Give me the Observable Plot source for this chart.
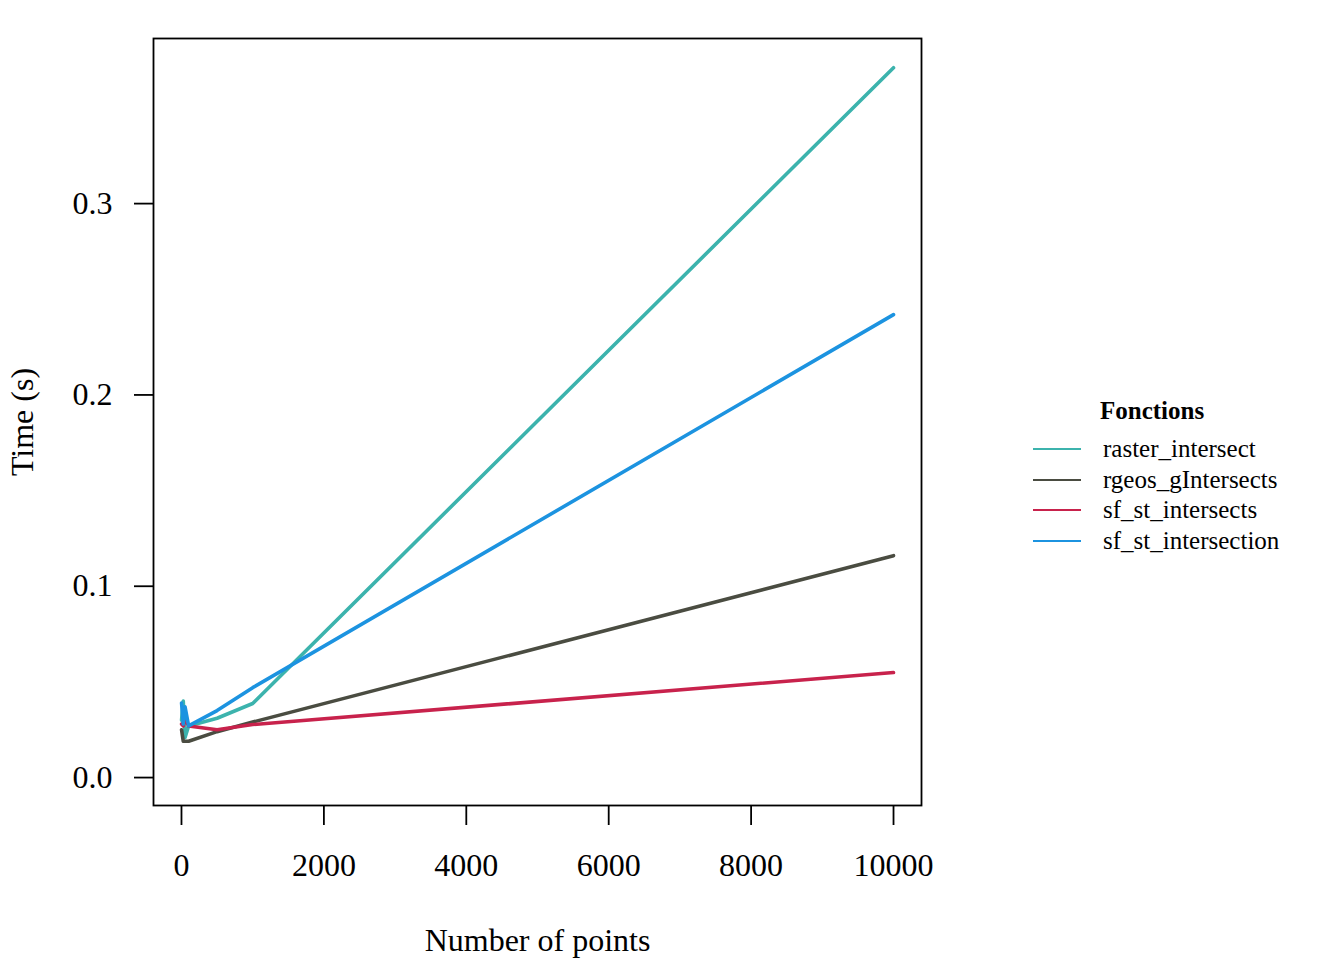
<!DOCTYPE html>
<html>
<head>
<meta charset="utf-8">
<script src="https://cdn.jsdelivr.net/npm/d3@7"></script>
<script src="https://cdn.jsdelivr.net/npm/@observablehq/plot@0.6"></script>
<style>
  html, body { margin: 0; padding: 0; background: #fff; }
  #wrap { position: relative; width: 1344px; height: 960px; font-family: "Liberation Serif", "DejaVu Serif", serif; }
  #legend { position: absolute; left: 1033px; top: 391px; font-family: "Liberation Serif", serif; }
  #legend .title { font-weight: bold; font-size: 25px; margin-left: 67px; height: 43px; line-height: 40px; }
  #legend .row { display: flex; align-items: center; height: 30.5px; }
  #legend .sw { width: 48px; height: 2px; margin-right: 22px; }
  #legend .lab { font-size: 25px; }
</style>
</head>
<body>
<div id="wrap"></div>
<script>
// ---- data ----
const nPoints = [1, 25, 50, 100, 500, 1000, 10000];
const seriesNames = ["raster_intersect", "rgeos_gIntersects", "sf_st_intersects", "sf_st_intersection"];
const rasterIntersect   = [0.030, 0.040, 0.021, 0.027, 0.031, 0.0387, 0.371];
const rgeosGIntersects  = [0.025, 0.019, 0.019, 0.019, 0.024, 0.029, 0.116];
const sfStIntersects    = [0.028, 0.027, 0.031, 0.027, 0.025, 0.0277, 0.0549];
const sfStIntersection  = [0.039, 0.028, 0.037, 0.027, 0.035, 0.047, 0.242];
const seriesColors = ["#3CB3AD", "#4A4C41", "#C8224C", "#1C93E0"];
const xTicks = [0, 2000, 4000, 6000, 8000, 10000];
const yTicks = [0, 0.1, 0.2, 0.3];

const seriesValues = [rasterIntersect, rgeosGIntersects, sfStIntersects, sfStIntersection];
const rows = [];
seriesNames.forEach((name, i) => {
  nPoints.forEach((x, j) => rows.push({series: name, x, y: seriesValues[i][j]}));
});

const chart = Plot.plot({
  width: 1344,
  height: 960,
  marginLeft: 153,
  marginRight: 423,
  marginTop: 38,
  marginBottom: 155,
  style: {fontFamily: "'Liberation Serif', serif", fontSize: "32px", background: "white", color: "black"},
  x: {domain: [-393, 10393], ticks: xTicks},
  y: {domain: [-0.0146, 0.3863], ticks: yTicks},
  color: {domain: seriesNames, range: seriesColors},
  marks: [
    Plot.line(rows, {x: "x", y: "y", z: "series", stroke: "series", strokeWidth: 3.6, strokeLinejoin: "round", strokeLinecap: "round"}),
    Plot.frame({stroke: "black", strokeWidth: 1.8}),
    Plot.axisX({ticks: xTicks, tickFormat: d => String(d), tickSize: 20, tickPadding: 28, strokeWidth: 1.8, fontSize: 32, label: null}),
    Plot.axisY({ticks: yTicks, tickFormat: d => d.toFixed(1), tickSize: 19, tickPadding: 22, strokeWidth: 1.8, fontSize: 32, label: null}),
    Plot.text(["Number of points"], {frameAnchor: "bottom", dy: 145, fontSize: 32, text: d => d}),
    Plot.text(["Time (s)"], {frameAnchor: "left", textAnchor: "middle", dx: -131, rotate: -90, fontSize: 32, text: d => d})
  ]
});
document.getElementById("wrap").appendChild(chart);

// legend
const leg = document.createElement("div");
leg.id = "legend";
const t = document.createElement("div");
t.className = "title";
t.textContent = "Fonctions";
leg.appendChild(t);
seriesNames.forEach((name, i) => {
  const r = document.createElement("div");
  r.className = "row";
  const sw = document.createElement("div");
  sw.className = "sw";
  sw.style.background = seriesColors[i];
  const lab = document.createElement("div");
  lab.className = "lab";
  lab.textContent = name;
  r.appendChild(sw); r.appendChild(lab);
  leg.appendChild(r);
});
document.getElementById("wrap").appendChild(leg);
</script>
</body>
</html>
